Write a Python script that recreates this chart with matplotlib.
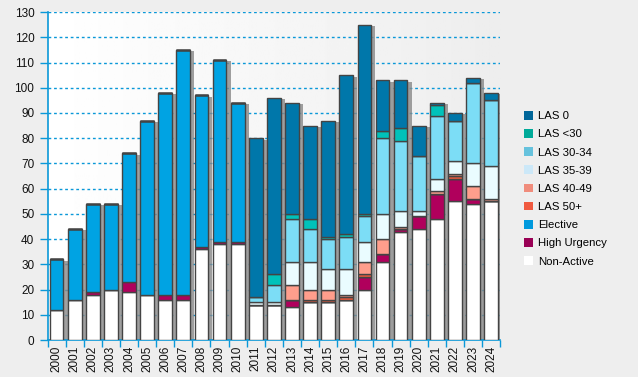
import matplotlib.pyplot as plt
import matplotlib.patheffects as pe
from matplotlib.patches import Patch
import numpy as np

plt.rcParams['font.family'] = ['Liberation Sans', 'DejaVu Sans']

years = [str(y) for y in range(2000, 2025)]

non_active = [12, 16, 18, 20, 19, 18, 16, 16, 36, 38, 38, 14, 14, 13, 15, 15, 16, 20, 31, 43, 44, 48, 55, 54, 55]
high_urgency = [0, 0, 1, 0, 4, 0, 2, 2, 1, 1, 1, 0, 0, 3, 0, 0, 0, 5, 3, 1, 5, 10, 9, 2, 0]
elective = [20, 28, 35, 34, 51, 69, 80, 97, 60, 72, 55, 0, 0, 0, 0, 0, 0, 0, 0, 0, 0, 0, 0, 0, 0]
las_50 = [0, 0, 0, 0, 0, 0, 0, 0, 0, 0, 0, 0, 0, 0, 1, 1, 1, 1, 0, 0, 0, 0, 1, 0, 0]
las_40_49 = [0, 0, 0, 0, 0, 0, 0, 0, 0, 0, 0, 0, 0, 6, 4, 4, 1, 5, 6, 1, 0, 1, 1, 5, 1]
las_35_39 = [0, 0, 0, 0, 0, 0, 0, 0, 0, 0, 0, 1, 1, 9, 11, 8, 10, 8, 10, 6, 2, 5, 5, 9, 13]
las_30_34 = [0, 0, 0, 0, 0, 0, 0, 0, 0, 0, 0, 2, 7, 17, 13, 12, 13, 10, 30, 28, 22, 25, 16, 32, 26]
las_lt30 = [0, 0, 0, 0, 0, 0, 0, 0, 0, 0, 0, 0, 4, 2, 4, 1, 1, 1, 3, 5, 0, 4, 0, 0, 0]
las_0 = [0, 0, 0, 0, 0, 0, 0, 0, 0, 0, 0, 63, 70, 44, 37, 46, 63, 75, 20, 19, 12, 1, 3, 2, 3]

# bottom to top
series = [
    ('Non-Active', non_active, '#FFFFFF'),
    ('High Urgency', high_urgency, '#B0005C'),
    ('Elective', elective, '#00A3E3'),
    ('LAS 50+', las_50, '#F05A3C'),
    ('LAS 40-49', las_40_49, '#FF9E8C'),
    ('LAS 35-39', las_35_39, '#EAFCFF'),
    ('LAS 30-34', las_30_34, '#7CDDF6'),
    ('LAS <30', las_lt30, '#00C2BA'),
    ('LAS 0', las_0, '#0077AA'),
]
legend_colors = {
    'LAS 0': '#006699', 'LAS <30': '#00AA99', 'LAS 30-34': '#66C2DD',
    'LAS 35-39': '#CCE8F8', 'LAS 40-49': '#F08C7C', 'LAS 50+': '#F05A40',
    'Elective': '#0099DD', 'High Urgency': '#990055', 'Non-Active': '#FFFFFF',
}

blue = '#0A98D8'
fig = plt.figure(figsize=(6.38, 3.77), dpi=100, facecolor='#EEEEEE')
ax = fig.add_axes([0.0745, 0.098, 0.7095, 0.870])

# background gradient
grad = np.linspace(1.0, 0.93, 256).reshape(1, -1)
ax.imshow(grad, cmap='gray', vmin=0, vmax=1, extent=[0, 1, 0, 1],
          transform=ax.transAxes, aspect='auto', zorder=0)

x = np.arange(len(years))
w = 0.76
totals = np.sum([s[1] for s in series], axis=0)

# shadows
ax.bar(x, totals, w, color='none', edgecolor='none', zorder=2,
       path_effects=[pe.SimplePatchShadow(offset=(3, -1), shadow_rgbFace='#888888', alpha=0.8)])

bottom = np.zeros(len(years))
for name, vals, col in series:
    vals = np.array(vals, dtype=float)
    ax.bar(x, vals, w, bottom=bottom, color=col, edgecolor='#444444',
           linewidth=1.0, zorder=3)
    bottom += vals

ax.set_xlim(-0.5, len(years) - 0.5)
ax.set_ylim(0, 130)
ax.set_yticks(range(0, 131, 10))
ax.yaxis.grid(True, color=blue, linestyle=(0, (2, 2)), linewidth=1.0, zorder=1)
ax.set_axisbelow(True)

ax.set_xticks(x)
ax.set_xticklabels(years, rotation=90)
ax.set_xticks(np.arange(-0.5, len(years)), minor=True)
ax.tick_params(axis='x', which='major', length=0, labelsize=8.5, pad=4, labelcolor='#111111')
ax.tick_params(axis='x', which='minor', length=5, color=blue, width=1)
ax.tick_params(axis='y', length=6, color=blue, width=1, labelsize=8.5, labelcolor='#111111')

for s in ['top', 'right']:
    ax.spines[s].set_visible(False)
for s in ['left', 'bottom']:
    ax.spines[s].set_color(blue)
    ax.spines[s].set_linewidth(1.2)

handles = [Patch(facecolor=legend_colors[n], edgecolor='none', label=n)
           for n, _, _ in series[::-1]]
fig.legend(handles=handles, loc='upper left', bbox_to_anchor=(0.805, 0.733),
           frameon=False, fontsize=8.2, handlelength=0.8, handleheight=0.8,
           handletextpad=0.45, labelspacing=0.69)

fig.savefig('out.png', dpi=100, facecolor=fig.get_facecolor())
